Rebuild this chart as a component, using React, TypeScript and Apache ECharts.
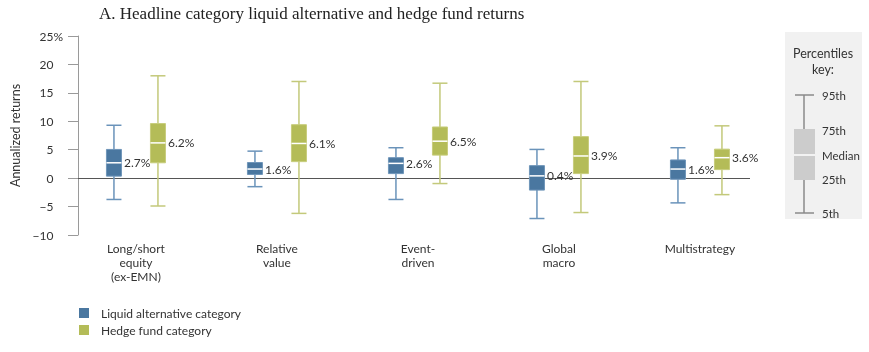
import React, { useEffect, useRef } from "react";
import * as echarts from "echarts";

const categories = [
  "Long/short\nequity\n(ex-EMN)",
  "Relative\nvalue",
  "Event-\ndriven",
  "Global\nmacro",
  "Multistrategy",
];
const seriesNames = ["Liquid alternative category", "Hedge fund category"];

const liquidP5 = [-3.75, -1.5, -3.75, -7.1, -4.35];
const liquidP25 = [0.35, 0.65, 0.8, -2.1, -0.2];
const liquidMedian = [2.7, 1.6, 2.6, 0.4, 1.6];
const liquidP75 = [5.05, 2.75, 3.6, 2.2, 3.2];
const liquidP95 = [9.3, 4.75, 5.35, 5.05, 5.35];

const hedgeP5 = [-4.9, -6.2, -0.95, -6.05, -2.9];
const hedgeP25 = [2.7, 2.9, 4.05, 0.8, 1.5];
const hedgeMedian = [6.2, 6.1, 6.5, 3.9, 3.6];
const hedgeP75 = [9.6, 9.4, 9.0, 7.3, 5.1];
const hedgeP95 = [18.0, 17.0, 16.7, 17.0, 9.2];

const yTicks = [-10, -5, 0, 5, 10, 15, 20, 25];

const FONT = "Lato";

function buildData(p5: number[], p25: number[], med: number[], p75: number[], p95: number[]) {
  return categories.map((_, i) => [i, p5[i], p25[i], med[i], p75[i], p95[i]]);
}

function makeRenderItem(offset: number, boxColor: string, edgeColor: string, whiskerColor: string) {
  return (params: any, api: any) => {
    const x = api.value(0);
    const yP5 = api.coord([x, api.value(1)])[1];
    const yP25 = api.coord([x, api.value(2)])[1];
    const yMed = api.coord([x, api.value(3)])[1];
    const yP75 = api.coord([x, api.value(4)])[1];
    const yP95 = api.coord([x, api.value(5)])[1];
    const cx = api.coord([x, 0])[0] + offset;
    const hw = 7.5;
    const med = api.value(3);
    return {
      type: "group",
      children: [
        { type: "line", shape: { x1: cx, y1: yP95, x2: cx, y2: yP75 }, style: { stroke: whiskerColor, lineWidth: 1.5 } },
        { type: "line", shape: { x1: cx, y1: yP25, x2: cx, y2: yP5 }, style: { stroke: whiskerColor, lineWidth: 1.5 } },
        { type: "line", shape: { x1: cx - hw, y1: yP95, x2: cx + hw, y2: yP95 }, style: { stroke: whiskerColor, lineWidth: 1.5 } },
        { type: "line", shape: { x1: cx - hw, y1: yP5, x2: cx + hw, y2: yP5 }, style: { stroke: whiskerColor, lineWidth: 1.5 } },
        {
          type: "rect",
          shape: { x: cx - hw, y: yP75, width: hw * 2, height: yP25 - yP75 },
          style: { fill: boxColor, stroke: edgeColor, lineWidth: 1 },
        },
        { type: "line", shape: { x1: cx - hw, y1: yMed, x2: cx + hw, y2: yMed }, style: { stroke: "#ffffff", lineWidth: 1.5 } },
        {
          type: "text",
          x: cx + hw + 2.5,
          y: yMed,
          style: {
            text: med.toFixed(1) + "%",
            fill: "#333333",
            fontSize: 12,
            fontFamily: FONT,
            verticalAlign: "middle",
            align: "left",
          },
        },
      ],
    };
  };
}

export default function App() {
  const ref = useRef<HTMLDivElement>(null);
  useEffect(() => {
    document.body.style.margin = "0";
    const chart = echarts.init(ref.current!, null, { renderer: "svg" });
    const blue = "#4a77a0";
    const green = "#b4bc58";
    const option: any = {
      animation: false,
      title: {
        text: "A. Headline category liquid alternative and hedge fund returns",
        left: 94,
        top: 0,
        textStyle: { fontFamily: "Liberation Serif", fontSize: 17, fontWeight: "normal", color: "#222222" },
      },
      grid: { left: 78, right: 119, top: 36, bottom: 117, containLabel: false },
      legend: {
        orient: "vertical",
        left: 74,
        top: 302,
        itemWidth: 10,
        itemHeight: 10,
        itemGap: 5,
        data: [
          { name: seriesNames[0], icon: "rect", itemStyle: { color: blue } },
          { name: seriesNames[1], icon: "rect", itemStyle: { color: green } },
        ],
        textStyle: { fontFamily: FONT, fontSize: 12, color: "#333333", padding: [0, 0, 0, 7] },
      },
      xAxis: {
        type: "value",
        min: -0.411,
        max: 4.355,
        axisLine: { show: false, onZero: false },
        axisTick: { show: false },
        splitLine: { show: false },
        axisLabel: {
          customValues: [0, 1, 2, 3, 4],
          formatter: (v: number) => categories[Math.round(v)] ?? "",
          fontFamily: FONT,
          fontSize: 12,
          color: "#333333",
          lineHeight: 14,
          margin: 6,
          align: "center",
        },
      },
      yAxis: {
        type: "value",
        min: -10,
        max: 25,
        interval: 5,
        name: "Annualized returns",
        nameLocation: "middle",
        nameRotate: 90,
        nameGap: 56,
        nameTextStyle: { fontFamily: FONT, fontSize: 12.5, color: "#333333" },
        axisLine: { show: true, onZero: false, lineStyle: { color: "#9a9a9a", width: 1 } },
        axisTick: { show: true, length: 10, lineStyle: { color: "#9a9a9a", width: 1 } },
        splitLine: { show: false },
        axisLabel: {
          margin: 15,
          formatter: (v: number) => {
            const s = v < 0 ? "\u2212" + Math.abs(v) : String(v);
            return v === yTicks[yTicks.length - 1] ? s + "{p|%}" : s + "{h|%}";
          },
          fontFamily: FONT,
          fontSize: 12,
          color: "#333333",
          rich: {
            p: { fontFamily: FONT, fontSize: 12, color: "#333333" },
            h: { fontFamily: FONT, fontSize: 12, color: "transparent" },
          },
        },
      },
      series: [
        {
          name: seriesNames[0],
          type: "custom",
          z: 3,
          itemStyle: { color: blue },
          encode: { x: 0, y: [1, 2, 3, 4, 5] },
          data: buildData(liquidP5, liquidP25, liquidMedian, liquidP75, liquidP95),
          renderItem: makeRenderItem(-22, blue, "#6f95b9", "#6a93ba"),
          markLine: {
            silent: true,
            symbol: ["none", "none"],
            label: { show: false },
            lineStyle: { color: "#555555", width: 1, type: "solid" },
            data: [{ yAxis: 0 }],
            z: 1,
          },
        },
        {
          name: seriesNames[1],
          type: "custom",
          z: 3,
          itemStyle: { color: green },
          encode: { x: 0, y: [1, 2, 3, 4, 5] },
          data: buildData(hedgeP5, hedgeP25, hedgeMedian, hedgeP75, hedgeP95),
          renderItem: makeRenderItem(22, green, "#c7cd7c", "#c3c97a"),
        },
      ],
      graphic: [
        {
          type: "group",
          children: [
            { type: "rect", shape: { x: 785, y: 32, width: 77, height: 187 }, style: { fill: "#f1f1f1" } },
            {
              type: "text",
              x: 823,
              y: 45,
              style: {
                text: "Percentiles\nkey:",
                fill: "#333333",
                fontSize: 12.5,
                fontFamily: FONT,
                align: "center",
                lineHeight: 16,
              },
            },
            { type: "line", shape: { x1: 804, y1: 95, x2: 804, y2: 213 }, style: { stroke: "#8a8a8a", lineWidth: 1.5 } },
            { type: "line", shape: { x1: 795, y1: 95, x2: 814, y2: 95 }, style: { stroke: "#8a8a8a", lineWidth: 1.5 } },
            { type: "line", shape: { x1: 795, y1: 213, x2: 814, y2: 213 }, style: { stroke: "#8a8a8a", lineWidth: 1.5 } },
            { type: "rect", shape: { x: 794, y: 129, width: 21, height: 51 }, style: { fill: "#cccccc" } },
            { type: "line", shape: { x1: 794, y1: 155, x2: 815, y2: 155 }, style: { stroke: "#ffffff", lineWidth: 1.5 } },
            ...[
              ["95th", 95],
              ["75th", 130],
              ["Median", 155],
              ["25th", 179],
              ["5th", 213],
            ].map(([t, y]) => ({
              type: "text",
              x: 822,
              y: y as number,
              style: {
                text: t as string,
                fill: "#333333",
                fontSize: 11.5,
                fontFamily: FONT,
                verticalAlign: "middle",
                align: "left",
              },
            })),
          ],
        },
      ],
    };
    chart.setOption(option);
    return () => chart.dispose();
  }, []);
  return <div ref={ref} style={{ position: "fixed", left: 0, top: 0, width: 869, height: 352 }} />;
}
